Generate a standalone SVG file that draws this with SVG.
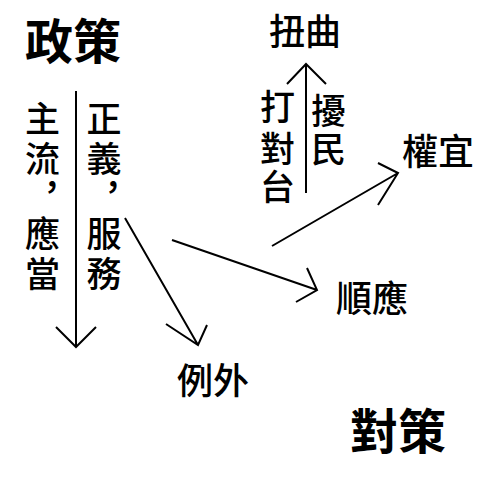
<svg xmlns="http://www.w3.org/2000/svg" width="500" height="484" viewBox="0 0 500 484">
<style>
text{font-family:"Noto Sans CJK TC","Noto Sans CJK SC",sans-serif;fill:#000}
.t{font-size:48px;font-weight:bold}
.n{font-size:36px;font-weight:500}
.v{font-size:35px;font-weight:500;text-anchor:middle}
.ln{stroke:#000;stroke-width:2;fill:none}
</style>
<rect width="500" height="484" fill="#fff"/>
<g id="connectors">
<path class="ln" d="M76,91V347M56,327L76,347L96,327"/>
<path class="ln" d="M306,193V64M287,84L306,64L326,84"/>
<path class="ln" d="M125,218L198,345M166,324L198,345L207,325"/>
<path class="ln" d="M172,240L317,290M307,268L317,290L296,302"/>
<path class="ln" d="M272,246L398,173M378,163L398,173L378,205"/>
</g>
<g id="zhengce"><text class="t" x="25" y="59">政策</text></g>
<g id="duice"><text class="t" x="350" y="449">對策</text></g>
<g id="left-col">
<text class="v"><tspan x="42.5" y="132">主</tspan><tspan x="42.5" y="172">流</tspan><tspan x="52" y="200">，</tspan><tspan x="42.5" y="247">應</tspan><tspan x="42.5" y="287">當</tspan></text>
</g>
<g id="right-col">
<text class="v"><tspan x="104" y="132">正</tspan><tspan x="104" y="172">義</tspan><tspan x="113" y="200">，</tspan><tspan x="104" y="247">服</tspan><tspan x="104" y="287">務</tspan></text>
</g>
<g id="niuqu"><text class="n" x="269" y="45">扭曲</text></g>
<g id="daduitai">
<text class="v"><tspan x="277.5" y="120">打</tspan><tspan x="277.5" y="162">對</tspan><tspan x="277.5" y="200">台</tspan></text>
</g>
<g id="raomin">
<text class="v"><tspan x="328.5" y="124">擾</tspan><tspan x="328.5" y="162">民</tspan></text>
</g>
<g id="quanyi"><text class="n" x="402" y="165">權宜</text></g>
<g id="shunying"><text class="n" x="336" y="312">順應</text></g>
<g id="liwai"><text class="n" x="177" y="394">例外</text></g>
</svg>
